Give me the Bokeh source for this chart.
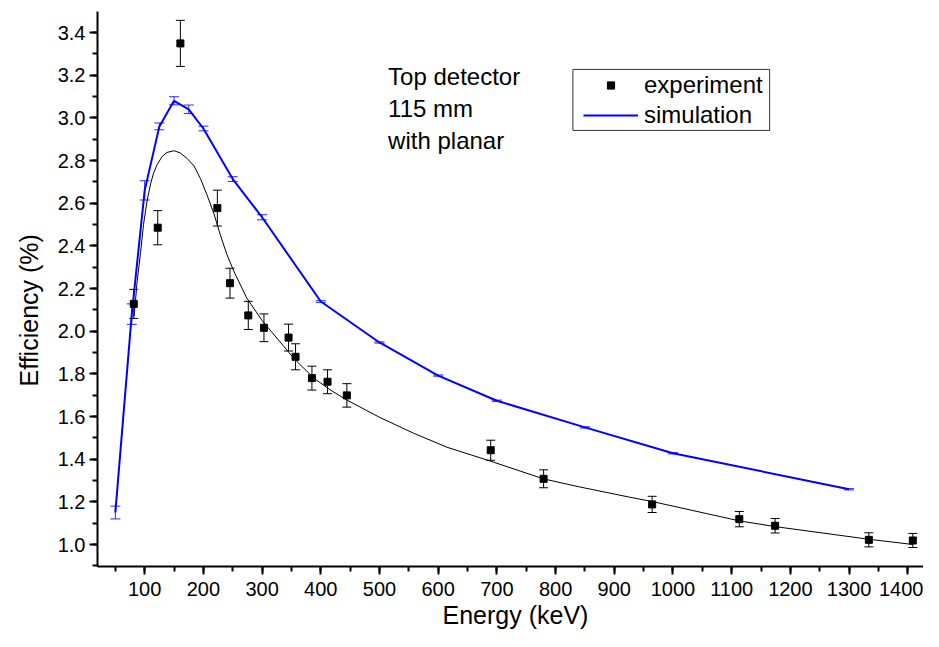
from bokeh.plotting import figure
from bokeh.models import (ColumnDataSource, Whisker, TeeHead, Legend, LegendItem, Label, Title,
                          SingleIntervalTicker, NumeralTickFormatter, Range1d, BoxAnnotation)
from bokeh.embed import file_html
from bokeh.resources import INLINE

# ---- data ----
exp_energy = [81.4, 122.2, 160.8, 223.8, 245.3, 276.5, 303.2, 345.1, 357.0, 384.9,
              411.5, 444.4, 689.5, 779.6, 964.5, 1113.0, 1174.0, 1333.7, 1408.6]
exp_eff = [2.128, 2.485, 3.349, 2.577, 2.225, 2.074, 2.016, 1.970, 1.880, 1.780,
           1.763, 1.699, 1.442, 1.308, 1.188, 1.119, 1.088, 1.022, 1.019]
exp_err = [0.068, 0.080, 0.108, 0.084, 0.070, 0.066, 0.065, 0.063, 0.061, 0.056,
           0.056, 0.055, 0.047, 0.042, 0.038, 0.036, 0.034, 0.033, 0.033]

sim_energy = [50, 78, 100, 125, 150, 175, 200, 250, 300, 400, 500, 600, 700, 850, 1000, 1300]
sim_eff = [1.15, 2.08, 2.66, 2.96, 3.08, 3.04, 2.95, 2.713, 2.534, 2.139, 1.947, 1.792,
           1.674, 1.549, 1.428, 1.259]
sim_err = [0.03, 0.048, 0.045, 0.016, 0.019, 0.02, 0.011, 0.011, 0.012, 0.004, 0.003,
           0.003, 0.003, 0.003, 0.003, 0.003]

fit_energy = [82, 87, 93, 98, 104, 110, 115, 121, 130, 138, 150, 161, 172, 184, 195, 206,
              218, 229, 240, 252, 274, 300, 354, 388, 416, 444, 501, 558, 615, 688, 779,
              841, 926, 964, 1113, 1174, 1333, 1409]
fit_eff = [2.07, 2.23, 2.37, 2.50, 2.61, 2.69, 2.74, 2.78, 2.82, 2.838, 2.846, 2.835, 2.81,
           2.775, 2.715, 2.64, 2.55, 2.45, 2.36, 2.28, 2.155, 2.05, 1.873, 1.78, 1.725,
           1.678, 1.595, 1.522, 1.456, 1.392, 1.308, 1.270, 1.222, 1.202, 1.111, 1.084,
           1.025, 1.0]

x_label = "Energy (keV)"
y_label = "Efficiency (%)"
note_lines = ["Top detector", "115 mm", "with planar"]

FONT = "Liberation Sans"

p = figure(width=923, height=631, output_backend="svg", toolbar_location=None,
           x_range=Range1d(19.6, 1426.8), y_range=Range1d(0.897, 3.4985),
           min_border_left=96, min_border_right=0, min_border_top=11, min_border_bottom=65,
           background_fill_color="white", border_fill_color="white")
p.xgrid.visible = False
p.ygrid.visible = False
p.outline_line_color = None

p.xaxis.ticker = SingleIntervalTicker(interval=100, num_minor_ticks=2)
p.yaxis.ticker = SingleIntervalTicker(interval=0.2, num_minor_ticks=2)
p.yaxis.formatter = NumeralTickFormatter(format="0.0")
for ax in (p.xaxis, p.yaxis):
    ax.axis_line_width = 2
    ax.axis_line_color = "black"
    ax.major_tick_line_width = 2
    ax.minor_tick_line_width = 2
    ax.major_tick_line_color = "black"
    ax.minor_tick_line_color = "black"
    ax.major_tick_in = 0
    ax.major_tick_out = 8
    ax.minor_tick_in = 0
    ax.minor_tick_out = 5
    ax.major_label_text_font = FONT
    ax.major_label_text_font_size = "20px"
    ax.major_label_text_color = "black"
p.xaxis.major_label_standoff = 7
p.yaxis.major_label_standoff = 4

# axis titles as side-panel titles
p.add_layout(Title(text=x_label, align="left", offset=345, standoff=0,
                   text_font=FONT, text_font_size="25px", text_font_style="normal",
                   text_color="black"), "below")
p.add_layout(Title(text=y_label, align="left", offset=180, standoff=24,
                   text_font=FONT, text_font_size="25px", text_font_style="normal",
                   text_color="black"), "left")

# fit curve
p.line(fit_energy, fit_eff, line_color="black", line_width=1)

# simulation
sim_src = ColumnDataSource(dict(
    x=sim_energy, y=sim_eff,
    lo=[v - e for v, e in zip(sim_eff, sim_err)],
    hi=[v + e for v, e in zip(sim_eff, sim_err)]))
p.add_layout(Whisker(source=sim_src, base="x", lower="lo", upper="hi",
                     line_color="#2b2bff", line_width=1,
                     upper_head=TeeHead(size=10, line_color="#2b2bff", line_width=1),
                     lower_head=TeeHead(size=10, line_color="#2b2bff", line_width=1)))
sim_line = p.line("x", "y", source=sim_src, line_color="#0000ff", line_width=2)

# experiment
exp_src = ColumnDataSource(dict(
    x=exp_energy, y=exp_eff,
    lo=[v - e for v, e in zip(exp_eff, exp_err)],
    hi=[v + e for v, e in zip(exp_eff, exp_err)]))
p.add_layout(Whisker(source=exp_src, base="x", lower="lo", upper="hi",
                     line_color="black", line_width=1,
                     upper_head=TeeHead(size=9, line_color="black", line_width=1),
                     lower_head=TeeHead(size=9, line_color="black", line_width=1)))
exp_pts = p.scatter("x", "y", source=exp_src, marker="square", size=7,
                    fill_color="black", line_color="black")

# annotation
for txt, yv in zip(note_lines, [3.194, 3.042, 2.892]):
    p.add_layout(Label(x=514.7, y=yv, text=txt, text_font=FONT, text_font_size="24px",
                       text_color="black", text_baseline="alphabetic"))

# legend frame
p.add_layout(BoxAnnotation(left=829.5, right=1164.7, bottom=2.941, top=3.227,
                           fill_color="white", fill_alpha=1,
                           line_color="#333333", line_width=1, line_alpha=1))

legend = Legend(items=[LegendItem(label="experiment", renderers=[exp_pts]),
                       LegendItem(label="simulation", renderers=[sim_line])],
                location=(486, 436), padding=0, spacing=0, margin=0,
                glyph_width=55, glyph_height=18, label_height=30, label_standoff=6,
                label_text_font=FONT, label_text_font_size="24px",
                label_text_color="black",
                border_line_color=None, background_fill_alpha=0)
p.add_layout(legend, "center")

open("out.html", "w").write(file_html(p, INLINE))
